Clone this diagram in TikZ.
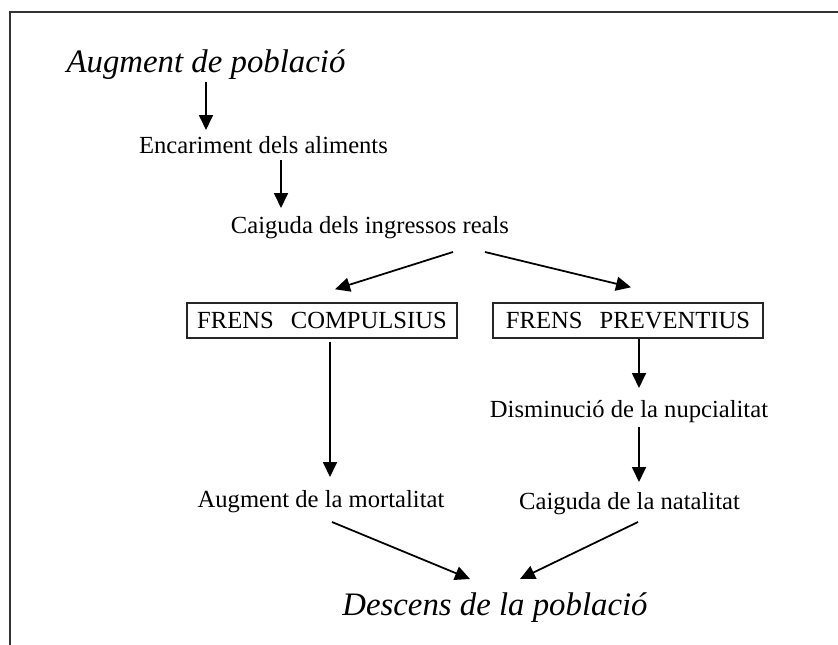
\documentclass[tikz,border=0pt]{standalone}
\usepackage{fontspec}
\setmainfont{Liberation Serif}
\usetikzlibrary{arrows.meta,calc}
\tikzset{
    txt/.style={inner sep=0pt,anchor=base,font=\fontsize{21}{25}\selectfont},
    bigtxt/.style={inner sep=0pt,anchor=base,font=\fontsize{28}{33}\selectfont\itshape},
    frenbox/.style={draw=black!85,line width=1.2pt,inner sep=0pt,
        minimum width=8.1cm,minimum height=1.05cm,font=\fontsize{21}{25}\selectfont},
    flow/.style={line width=1.5pt,-{Triangle[length=4.5mm,width=4.2mm]}},
}
\begin{document}
\begin{tikzpicture}[x=0.03cm,y=-0.03cm]
        \useasboundingbox (0,0) rectangle (838,645);
        %% frame, top and left only
        \draw[line width=1.7pt,black!80] (838,12) -- (10,12) -- (10,645);
        %% chain at the top
        \node[bigtxt] (aug) at (206,72) {Augment de població};
        \node[txt] (enc) at (263.5,153) {Encariment dels aliments};
        \node[txt] (cai) at (370,233) {Caiguda dels ingressos reals};
        \draw[flow] ($(aug.base)+(0,10)$) -- ($(enc.base)+(-57.5,-23)$);
        \draw[flow] ($(enc.base)+(17.5,7)$) -- ($(cai.base)+(-89,-25)$);
        %% the two checks
        \node[frenbox] (comp) at (322,320.5) {FRENS\hspace{0.7em}COMPULSIUS};
        \node[frenbox] (prev) at (628,320.5) {FRENS\hspace{0.7em}PREVENTIUS};
        \draw[flow] ($(cai.base)+(83,19)$) -- ($(comp.north)+(13,-13)$);
        \draw[flow] ($(cai.base)+(115,19)$) -- ($(prev.north)+(3,-15)$);
        %% left branch
        \node[txt] (mort) at (321,507) {Augment de la mortalitat};
        \draw[flow] ($(comp.south)+(8,3)$) -- ($(mort.base)+(9,-30)$);
        %% right branch
        \node[txt] (nup) at (629,417) {Disminució de la nupcialitat};
        \node[txt] (nat) at (629.5,509) {Caiguda de la natalitat};
        \draw[flow] ($(prev.south)+(11,0)$) -- ($(nup.base)+(10,-29)$);
        \draw[flow] ($(nup.base)+(10,10)$) -- ($(nat.base)+(9.5,-27)$);
        %% result
        \node[bigtxt] (desc) at (495,615) {Descens de la població};
        \draw[flow] ($(mort.base)+(11,15)$) -- ($(desc.base)+(-25,-36)$);
        \draw[flow] ($(nat.base)+(8.5,13)$) -- ($(desc.base)+(25,-36)$);
\end{tikzpicture}
\end{document}
